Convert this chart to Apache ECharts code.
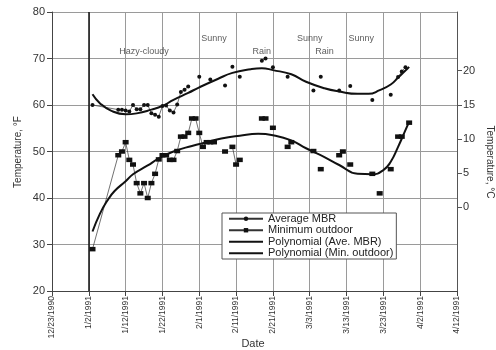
<!DOCTYPE html>
<html>
<head>
<meta charset="utf-8">
<script src="https://cdn.jsdelivr.net/npm/echarts@6/dist/echarts.min.js"></script>
<style>
  html, body { margin: 0; padding: 0; background: #fff; }
  #chart { width: 496px; height: 350px; }
</style>
</head>
<body>
<div id="chart"></div>
<script>
// Day zero of the date axis
const startDate = '1990-12-23';

// Daily readings; null marks a day with no reading (breaks the thin line)
const dates = [
  '1991-01-03', '1991-01-10', '1991-01-11', '1991-01-12', '1991-01-13', '1991-01-14',
  '1991-01-15', '1991-01-16', '1991-01-17', '1991-01-18', '1991-01-19', '1991-01-20',
  '1991-01-21', '1991-01-22', '1991-01-23', '1991-01-24', '1991-01-25', '1991-01-26',
  '1991-01-27', '1991-01-28', '1991-01-29', '1991-01-30', '1991-01-31', '1991-02-01',
  '1991-02-02', '1991-02-03', '1991-02-04', '1991-02-05', '1991-02-06', '1991-02-08',
  '1991-02-09', '1991-02-10', '1991-02-11', '1991-02-12', '1991-02-13', '1991-02-18',
  '1991-02-19', '1991-02-20', '1991-02-21', '1991-02-22', '1991-02-25', '1991-02-26',
  '1991-02-27', '1991-03-04', '1991-03-05', '1991-03-06', '1991-03-07', '1991-03-11',
  '1991-03-12', '1991-03-13', '1991-03-14', '1991-03-15', '1991-03-20', '1991-03-21',
  '1991-03-22', '1991-03-23', '1991-03-25', '1991-03-26', '1991-03-27', '1991-03-28',
  '1991-03-29', '1991-03-30'
];
const avgMBR = [
  60.0, 59.0, 59.0, 58.8, 58.6, 60.0,
  59.1, 59.1, 60.0, 60.0, 58.2, 57.9,
  57.5, 59.8, 59.9, 58.8, 58.4, 60.1,
  62.8, 63.3, 64.0, null, null, 66.1,
  null, null, 65.5, null, null, 64.2,
  null, 68.2, null, 66.1, null, 69.5,
  70.0, null, 68.1, null, 66.1, null,
  null, 63.1, null, 66.1, null, 63.1,
  null, null, 64.1, null, 61.1, null,
  null, null, 62.2, null, 66.0, 67.2,
  68.1, null
];
const minOutdoor = [
  29.0, 49.2, 50.0, 52.0, 48.2, 47.2,
  43.2, 41.0, 43.2, 40.0, 43.2, 45.2,
  48.3, 49.2, 49.2, 48.2, 48.2, 50.1,
  53.2, 53.2, 54.0, 57.1, 57.1, 54.0,
  51.0, 52.0, 52.0, 52.0, null, 50.0,
  null, 51.0, 47.2, 48.2, null, 57.1,
  57.1, null, 55.1, null, 51.0, 52.0,
  null, 50.1, null, 46.2, null, 49.2,
  50.0, null, 47.2, null, 45.2, null,
  41.0, null, 46.2, null, 53.2, 53.2,
  null, 56.2
];

// Polynomial trend curves
const polyMBRDates = [
  '1991-01-03', '1991-01-05', '1991-01-08', '1991-01-12', '1991-01-15', '1991-01-19',
  '1991-01-22', '1991-01-25', '1991-01-29', '1991-02-01', '1991-02-06', '1991-02-10',
  '1991-02-15', '1991-02-18', '1991-02-21', '1991-02-26', '1991-03-02', '1991-03-07',
  '1991-03-11', '1991-03-16', '1991-03-19', '1991-03-22', '1991-03-25', '1991-03-27',
  '1991-03-29', '1991-03-30'
];
const polyMBR = [
  62.3, 60.4, 58.8, 58.0, 58.2, 59.0,
  59.8, 61.1, 62.6, 63.8, 65.6, 66.9,
  67.7, 67.9, 67.5, 66.6, 65.0, 63.6,
  62.9, 62.4, 62.4, 63.2, 64.4, 65.9,
  67.4, 68.2
];
const polyMinDates = [
  '1991-01-03', '1991-01-05', '1991-01-07', '1991-01-09', '1991-01-12', '1991-01-14',
  '1991-01-18', '1991-01-21', '1991-01-25', '1991-01-30', '1991-02-03', '1991-02-07',
  '1991-02-12', '1991-02-17', '1991-02-21', '1991-02-26', '1991-03-02', '1991-03-07',
  '1991-03-11', '1991-03-16', '1991-03-20', '1991-03-23', '1991-03-25', '1991-03-27',
  '1991-03-29', '1991-03-30'
];
const polyMin = [
  32.8, 36.6, 39.4, 41.5, 43.6, 45.1,
  47.0, 48.5, 50.0, 51.2, 52.0, 52.8,
  53.4, 53.8, 53.5, 52.4, 50.7, 48.8,
  47.1, 45.2, 45.1, 46.0, 47.8, 51.0,
  54.6, 56.4
];

// Weather notes written above the curves
const weatherText = ['Hazy-cloudy', 'Sunny', 'Rain', 'Sunny', 'Rain', 'Sunny'];
const weatherDates = ['1991-01-17', '1991-02-05', '1991-02-18', '1991-03-03', '1991-03-07', '1991-03-17'];
const weatherTempF = [71.4, 74.4, 71.6, 74.4, 71.6, 74.4];

// Celsius tick labels on the right-hand axis
const celsiusTicks = [0, 5, 10, 15, 20];

const DAY = 86400000;
const t0 = Date.parse(startDate + 'T00:00:00Z');
const dayOf = s => Math.round((Date.parse(s + 'T00:00:00Z') - t0) / DAY);
const dateLabel = v => {
  const d = new Date(t0 + v * DAY);
  return (d.getUTCMonth() + 1) + '/' + d.getUTCDate() + '/' + d.getUTCFullYear();
};
const pairs = (ds, vs) => ds.map((s, i) => [dayOf(s), vs[i]]);

const FONT = 'Liberation Sans, Arial, sans-serif';
const INK = '#222';
const noMarker = { color: 'rgba(0,0,0,0)', borderWidth: 0 };

const chart = echarts.init(document.getElementById('chart'), null, { renderer: 'canvas' });

chart.setOption({
  animation: false,
  backgroundColor: '#fff',
  textStyle: { fontFamily: FONT, color: INK },
  grid: { left: 52, right: 39, top: 12, bottom: 59, containLabel: false },
  xAxis: {
    type: 'value',
    min: 0, max: 110, interval: 10,
    axisLine: { show: true, onZero: false, lineStyle: { color: '#444', width: 1 } },
    axisTick: { show: true, length: 5, lineStyle: { color: '#444' } },
    axisLabel: {
      rotate: 90, margin: 5, fontSize: 8.5, color: '#333', fontFamily: FONT,
      formatter: dateLabel
    },
    splitLine: { show: true, lineStyle: { color: '#9a9a9a', width: 1 } }
  },
  yAxis: [
    {
      type: 'value',
      min: 20, max: 80, interval: 10,
      axisLine: { show: true, onZero: false, lineStyle: { color: '#444', width: 1 } },
      axisTick: { show: true, length: 5, lineStyle: { color: '#444' } },
      axisLabel: { margin: 7, fontSize: 11, color: '#333', fontFamily: FONT },
      splitLine: { show: true, lineStyle: { color: '#9a9a9a', width: 1 } }
    },
    {
      type: 'value',
      position: 'right',
      min: -12.3, max: 28.6,
      axisLine: { show: true, onZero: false, lineStyle: { color: '#555', width: 1 } },
      axisTick: { show: true, length: 5, customValues: celsiusTicks, lineStyle: { color: '#555' } },
      axisLabel: { show: true, margin: 6, fontSize: 11, color: '#333', fontFamily: FONT, customValues: celsiusTicks },
      splitLine: { show: false }
    }
  ],
  legend: {
    data: [
      { name: 'Average MBR' },
      { name: 'Minimum outdoor' },
      { name: 'Polynomial (Ave. MBR)', itemStyle: noMarker },
      { name: 'Polynomial (Min. outdoor)', itemStyle: noMarker }
    ],
    orient: 'vertical',
    left: 222, top: 213,
    padding: [0, 3, 0, 6],
    itemWidth: 34, itemHeight: 5.5, itemGap: 0,
    backgroundColor: '#fff',
    borderColor: '#555', borderWidth: 1, borderRadius: 0,
    textStyle: { fontSize: 11, lineHeight: 11.5, color: INK, fontFamily: FONT },
    selectedMode: false
  },
  graphic: [
    {
      type: 'text', x: 18, y: 152, rotation: Math.PI / 2,
      style: { text: 'Temperature, °F', font: '10px ' + FONT, fill: '#333', align: 'center', verticalAlign: 'middle' }
    },
    {
      type: 'text', x: 490, y: 162, rotation: -Math.PI / 2,
      style: { text: 'Temperature, °C', font: '10px ' + FONT, fill: '#333', align: 'center', verticalAlign: 'middle' }
    },
    {
      type: 'text', x: 253, y: 344,
      style: { text: 'Date', font: '11px ' + FONT, fill: '#333', align: 'center', verticalAlign: 'middle' }
    }
  ],
  series: [
    {
      name: 'Average MBR',
      type: 'line',
      data: pairs(dates, avgMBR),
      connectNulls: false,
      symbol: 'circle', symbolSize: 4, showSymbol: true,
      lineStyle: { color: '#333', width: 0.7 },
      itemStyle: { color: '#111' },
      z: 3,
      markLine: {
        silent: true, symbol: 'none', label: { show: false },
        lineStyle: { color: '#111', width: 1.5, type: 'solid' },
        data: [{ xAxis: dayOf('1991-01-02') }]
      }
    },
    {
      name: 'Minimum outdoor',
      type: 'line',
      data: pairs(dates, minOutdoor),
      connectNulls: false,
      symbol: 'rect', symbolSize: [6, 4.5], showSymbol: true,
      lineStyle: { color: '#333', width: 0.7 },
      itemStyle: { color: '#111' },
      z: 3
    },
    {
      name: 'Polynomial (Ave. MBR)',
      type: 'line',
      data: pairs(polyMBRDates, polyMBR),
      smooth: 0.5,
      symbol: 'none',
      lineStyle: { color: '#111', width: 2 },
      itemStyle: { color: '#111' },
      z: 4
    },
    {
      name: 'Polynomial (Min. outdoor)',
      type: 'line',
      data: pairs(polyMinDates, polyMin),
      smooth: 0.5,
      symbol: 'none',
      lineStyle: { color: '#111', width: 2 },
      itemStyle: { color: '#111' },
      z: 4
    },
    {
      name: 'weather',
      type: 'scatter',
      data: weatherDates.map((s, i) => ({ value: [dayOf(s), weatherTempF[i]], name: weatherText[i] })),
      symbolSize: 1,
      itemStyle: { color: 'rgba(0,0,0,0)' },
      label: {
        show: true, position: 'inside', formatter: p => p.name,
        fontSize: 9, color: '#333', fontFamily: FONT
      },
      silent: true,
      z: 5
    }
  ]
});
</script>
</body>
</html>
